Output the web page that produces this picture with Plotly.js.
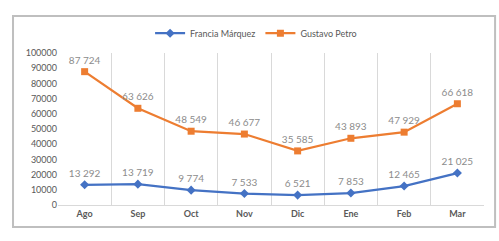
<!DOCTYPE html>
<html><head><meta charset="utf-8">
<script src="https://cdn.plot.ly/plotly-3.0.1.min.js"></script>
<style>html,body{margin:0;padding:0;background:#fff}#c{width:499px;height:241px}</style>
</head><body><div id="c"></div>
<script>
const months = ["Ago","Sep","Oct","Nov","Dic","Ene","Feb","Mar"];
const francia = [13292,13719,9774,7533,6521,7853,12465,21025];
const petro = [87724,63626,48549,46677,35585,43893,47929,66618];
const yTicks = [0,10000,20000,30000,40000,50000,60000,70000,80000,90000,100000];

const fontFam = "Lato, 'Open Sans', sans-serif";
const traces = [
  {x: months, y: francia, name: "Francia Márquez", type: "scatter", mode: "lines+markers+text",
   line: {color: "#4472C4", width: 2.25}, marker: {symbol: "diamond", size: 7, color: "#4472C4"},
   texttemplate: "%{y:,}", textposition: "top center", cliponaxis: false,
   textfont: {family: fontFam, size: 10, color: "#8c8c8c"}, hoverinfo: "none"},
  {x: months, y: petro, name: "Gustavo Petro", type: "scatter", mode: "lines+markers+text",
   line: {color: "#ED7D31", width: 2.25}, marker: {symbol: "square", size: 7, color: "#ED7D31"},
   texttemplate: "%{y:,}", textposition: "top center", cliponaxis: false,
   textfont: {family: fontFam, size: 10, color: "#8c8c8c"}, hoverinfo: "none"}
];
const layout = {
  width: 499, height: 241, separators: ". ",
  margin: {l: 58, r: 15, t: 53, b: 36},
  paper_bgcolor: "#fff", plot_bgcolor: "#fff",
  font: {family: fontFam, size: 9, color: "#595959"},
  showlegend: true,
  legend: {orientation: "h", x: 0.465, xanchor: "center", y: 1.13, yanchor: "middle",
           font: {family: fontFam, size: 9, color: "#595959"}, itemwidth: 30, tracegroupgap: 0},
  xaxis: {type: "category", range: [-0.5, 7.5], tickson: "boundaries", showgrid: true,
          gridcolor: "#d9d9d9", gridwidth: 1, showline: true, linecolor: "#d9d9d9", ticks: "",
          tickfont: {family: fontFam, size: 9, color: "#595959", weight: "bold"}, fixedrange: true},
  yaxis: {range: [0, 100000], tickvals: yTicks, tickformat: "d", showgrid: false, zeroline: false,
          showline: false, ticks: "", tickfont: {family: fontFam, size: 9, color: "#595959"}, fixedrange: true},
  shapes: [{type: "rect", xref: "paper", yref: "paper", layer: "above", x0: -0.1056, x1: 1.026, y0: -0.145, y1: 1.243,
            line: {color: "#bfbfbf", width: 2}, fillcolor: "rgba(0,0,0,0)"}]
};
Plotly.newPlot("c", traces, layout, {displayModeBar: false, staticPlot: true});
</script></body></html>
